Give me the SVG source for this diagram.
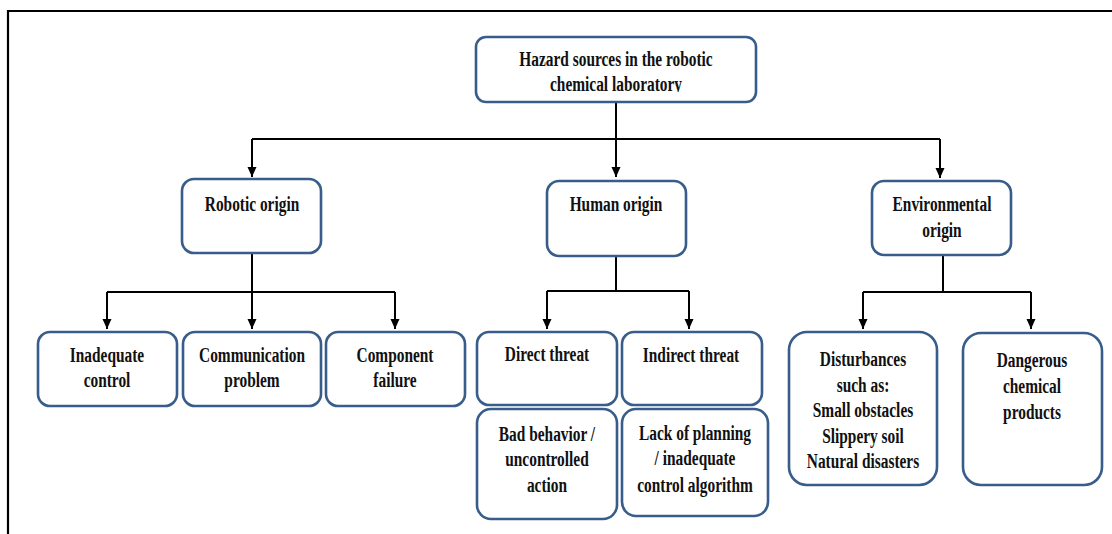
<svg xmlns="http://www.w3.org/2000/svg" width="1112" height="534" viewBox="0 0 1112 534">
<style>
.box{fill:#fff;stroke:#385d8a;stroke-width:2.6}
.t{font-family:"Liberation Serif","Times New Roman",serif;font-weight:bold;font-size:20px;fill:#111;text-anchor:middle}
.c{fill:none;stroke:#000;stroke-width:2}
</style>
<defs>
<marker id="ah" markerUnits="userSpaceOnUse" markerWidth="10" markerHeight="10" viewBox="0 0 10 10" refX="10" refY="5" orient="auto">
<path d="M0,0.5 L10,5 L0,9.5 Z" fill="#000"/>
</marker>
<clipPath id="clipTitle"><rect x="470" y="30" width="300" height="62"/></clipPath>
</defs>
<rect width="1112" height="534" fill="#fff"/>
<path d="M8,534 V11 H1112" fill="none" stroke="#000" stroke-width="2.2"/>

<g id="connectors">
<path class="c" d="M616,102 V139 M252,139 H940"/>
<path class="c" d="M252,139 V177" marker-end="url(#ah)"/>
<path class="c" d="M616,139 V177" marker-end="url(#ah)"/>
<path class="c" d="M940,139 V178" marker-end="url(#ah)"/>
<path class="c" d="M252,253 V292 M107,292 H395"/>
<path class="c" d="M107,292 V329" marker-end="url(#ah)"/>
<path class="c" d="M252,292 V329" marker-end="url(#ah)"/>
<path class="c" d="M395,292 V329" marker-end="url(#ah)"/>
<path class="c" d="M616,256 V291 M547,291 H689"/>
<path class="c" d="M547,291 V329" marker-end="url(#ah)"/>
<path class="c" d="M689,291 V329" marker-end="url(#ah)"/>
<path class="c" d="M943,255 V292 M863,292 H1031"/>
<path class="c" d="M863,292 V329" marker-end="url(#ah)"/>
<path class="c" d="M1031,292 V329" marker-end="url(#ah)"/>
</g>

<g id="root">
<rect class="box" x="476" y="37" width="280" height="65" rx="10"/>
<text class="t" transform="translate(616,65.5) scale(0.77,1)">Hazard sources in the robotic</text>
<g clip-path="url(#clipTitle)">
<text class="t" transform="translate(616,90.5) scale(0.77,1)">chemical laboratory</text>
</g>
</g>

<g id="robotic">
<rect class="box" x="182" y="179" width="139" height="74" rx="12"/>
<text class="t" transform="translate(252,210.5) scale(0.77,1)">Robotic origin</text>
</g>
<g id="human">
<rect class="box" x="547" y="181" width="139" height="75" rx="12"/>
<text class="t" transform="translate(616,210.5) scale(0.77,1)">Human origin</text>
</g>
<g id="environmental">
<rect class="box" x="872" y="181" width="139" height="74" rx="12"/>
<text class="t" transform="translate(942,210.5) scale(0.77,1)">Environmental</text>
<text class="t" transform="translate(942,236.5) scale(0.77,1)">origin</text>
</g>

<g id="inadequate">
<rect class="box" x="38" y="332" width="139" height="74" rx="12"/>
<text class="t" transform="translate(107,361.5) scale(0.77,1)">Inadequate</text>
<text class="t" transform="translate(107,386.5) scale(0.77,1)">control</text>
</g>
<g id="communication">
<rect class="box" x="183" y="332" width="138" height="74" rx="12"/>
<text class="t" transform="translate(252,361.5) scale(0.77,1)">Communication</text>
<text class="t" transform="translate(252,386.5) scale(0.77,1)">problem</text>
</g>
<g id="component">
<rect class="box" x="326" y="332" width="139" height="74" rx="12"/>
<text class="t" transform="translate(395,361.5) scale(0.77,1)">Component</text>
<text class="t" transform="translate(395,386.5) scale(0.77,1)">failure</text>
</g>

<g id="direct">
<rect class="box" x="477" y="332" width="140" height="73" rx="12"/>
<text class="t" transform="translate(547,360.5) scale(0.77,1)">Direct threat</text>
</g>
<g id="indirect">
<rect class="box" x="622" y="332" width="140" height="73" rx="12"/>
<text class="t" transform="translate(691,361.5) scale(0.77,1)">Indirect threat</text>
</g>
<g id="bad-behavior">
<rect class="box" x="477" y="409" width="140" height="110" rx="14"/>
<text class="t" transform="translate(547,440.5) scale(0.77,1)">Bad behavior /</text>
<text class="t" transform="translate(547,465.5) scale(0.77,1)">uncontrolled</text>
<text class="t" transform="translate(547,491.5) scale(0.77,1)">action</text>
</g>
<g id="lack-planning">
<rect class="box" x="622" y="409" width="146" height="107" rx="14"/>
<text class="t" transform="translate(695,439.5) scale(0.77,1)">Lack of planning</text>
<text class="t" transform="translate(695,464.5) scale(0.77,1)">/ inadequate</text>
<text class="t" transform="translate(695,491.5) scale(0.77,1)">control algorithm</text>
</g>

<g id="disturbances">
<rect class="box" x="789" y="332" width="148" height="153" rx="18"/>
<text class="t" transform="translate(863,365.5) scale(0.77,1)">Disturbances</text>
<text class="t" transform="translate(863,391.5) scale(0.77,1)">such as:</text>
<text class="t" transform="translate(863,416.5) scale(0.77,1)">Small obstacles</text>
<text class="t" transform="translate(863,442.5) scale(0.77,1)">Slippery soil</text>
<text class="t" transform="translate(863,467.5) scale(0.77,1)">Natural disasters</text>
</g>
<g id="dangerous">
<rect class="box" x="963" y="333" width="139" height="152" rx="18"/>
<text class="t" transform="translate(1032,366.5) scale(0.77,1)">Dangerous</text>
<text class="t" transform="translate(1032,392.5) scale(0.77,1)">chemical</text>
<text class="t" transform="translate(1032,418.5) scale(0.77,1)">products</text>
</g>
</svg>
